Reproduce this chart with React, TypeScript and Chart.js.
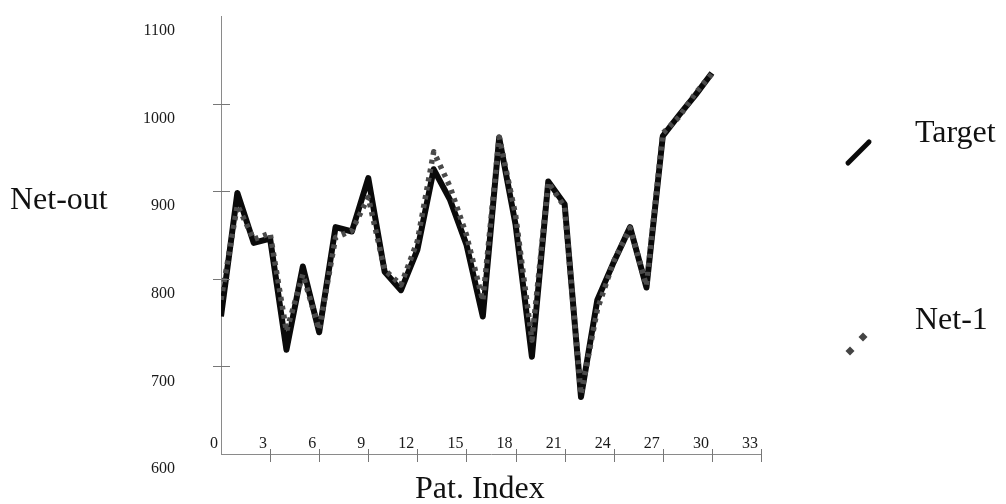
import React, { useEffect, useRef } from 'react';
import { Chart, registerables } from 'chart.js';

Chart.register(...registerables);

// ---- data ----
const patIndex = [0, 1, 2, 3, 4, 5, 6, 7, 8, 9, 10, 11, 12, 13, 14, 15, 16, 17, 18, 19, 20, 21, 22, 23, 24, 25, 26, 27, 28, 29, 30];
const targetValues = [757, 898, 841, 846, 719, 814, 739, 859, 854, 915, 808, 787, 833, 925, 890, 839, 757, 961, 862, 711, 911, 885, 665, 776, 819, 859, 790, 963, 987, 1010, 1035];
const net1Values = [776, 884, 845, 852, 740, 805, 742, 847, 855, 893, 810, 793, 843, 945, 905, 850, 775, 962, 873, 730, 910, 882, 668, 765, 820, 858, 792, 966, 985, 1012, 1034];
const seriesNames = ['Target', 'Net-1'];
const xTickValues = [0, 3, 6, 9, 12, 15, 18, 21, 24, 27, 30, 33];
const xCrossTicks = [3, 6, 9, 12, 15, 18, 21, 24, 27, 30, 33];
const yTickValues = [600, 700, 800, 900, 1000, 1100];
const yCrossTicks = [700, 800, 900, 1000];
const xTitle = 'Pat. Index';
const yTitle = 'Net-out';

const SERIF = '"Liberation Serif", "DejaVu Serif", serif';

const decorPlugin = {
  id: 'decor',
  afterDraw(chart: any) {
    const ctx = chart.ctx as CanvasRenderingContext2D;
    const xs = chart.scales.x;
    const ys = chart.scales.y;
    const x0 = xs.getPixelForValue(0);
    const yBase = ys.getPixelForValue(600);
    ctx.save();
    // cross-shaped tick marks
    ctx.strokeStyle = '#777';
    ctx.lineWidth = 1;
    ctx.beginPath();
    for (const t of xCrossTicks) {
      const px = Math.round(xs.getPixelForValue(t)) + 0.5;
      ctx.moveTo(px, yBase - 5);
      ctx.lineTo(px, yBase + 8);
    }
    for (const t of yCrossTicks) {
      const py = Math.round(ys.getPixelForValue(t)) + 0.5;
      ctx.moveTo(x0 - 8, py);
      ctx.lineTo(x0 + 9, py);
    }
    ctx.stroke();

    // axis titles (horizontal text)
    ctx.fillStyle = '#111';
    ctx.font = '32px ' + SERIF;
    ctx.textAlign = 'left';
    ctx.textBaseline = 'alphabetic';
    ctx.fillText(yTitle, 10, 209);
    ctx.fillText(xTitle, 415, 498);

    // legend
    const ds = chart.data.datasets;
    ctx.fillText(ds[0].label, 915, 142);
    ctx.fillText(ds[1].label, 915, 329);
    // Target symbol: short thick diagonal stroke
    ctx.strokeStyle = '#0a0a0a';
    ctx.lineWidth = 5;
    ctx.lineCap = 'round';
    ctx.beginPath();
    ctx.moveTo(848, 163);
    ctx.lineTo(869, 142);
    ctx.stroke();
    // Net-1 symbol: two diamonds
    ctx.fillStyle = '#444';
    const diamond = (cx: number, cy: number, r: number) => {
      ctx.beginPath();
      ctx.moveTo(cx, cy - r);
      ctx.lineTo(cx + r, cy);
      ctx.lineTo(cx, cy + r);
      ctx.lineTo(cx - r, cy);
      ctx.closePath();
      ctx.fill();
    };
    diamond(850, 351, 4.5);
    diamond(863, 337, 4.5);
    ctx.restore();
  },
};

export default function App() {
  const canvasRef = useRef<HTMLCanvasElement | null>(null);

  useEffect(() => {
    if (!canvasRef.current) return;
    const targetData = patIndex.map((x, i) => ({ x, y: targetValues[i] }));
    const net1Data = patIndex.map((x, i) => ({ x, y: net1Values[i] }));
    const chart = new Chart(canvasRef.current, {
      type: 'line',
      data: {
        datasets: [
          {
            label: seriesNames[0],
            data: targetData,
            borderColor: '#0a0a0a',
            borderWidth: 6,
            pointRadius: 0,
            tension: 0,
            borderJoinStyle: 'round',
            order: 2,
          },
          {
            label: seriesNames[1],
            data: net1Data,
            borderColor: '#4a4a4a',
            borderWidth: 5.5,
            borderDash: [4, 5],
            borderCapStyle: 'butt',
            borderJoinStyle: 'round',
            pointRadius: 0,
            tension: 0,
            order: 1,
          },
        ],
      },
      options: {
        animation: false,
        responsive: false,
        devicePixelRatio: 1,
        layout: { padding: { left: 0, right: 245, top: 16, bottom: 0 } },
        plugins: {
          legend: { display: false },
          tooltip: { enabled: false },
          title: { display: false },
        },
        scales: {
          x: {
            type: 'linear',
            min: 0,
            max: 33,
            afterFit: (s: any) => {
              s.height = 50;
              s.paddingLeft = 0;
              s.paddingRight = 0;
            },
            afterBuildTicks: (s: any) => {
              s.ticks = xTickValues.map((v) => ({ value: v }));
            },
            grid: { display: false },
            border: { display: true, color: '#8a8a8a', width: 1, dash: [6, 2, 1, 2] },
            ticks: {
              autoSkip: false,
              maxRotation: 0,
              mirror: true,
              align: 'end',
              labelOffset: -3,
              padding: 1,
              color: '#1a1a1a',
              font: { family: SERIF, size: 16 },
              callback: (v: any) => String(v),
            },
          },
          y: {
            type: 'linear',
            min: 600,
            max: 1100,
            afterFit: (s: any) => {
              s.width = 221;
              s.paddingTop = 0;
              s.paddingBottom = 0;
            },
            afterBuildTicks: (s: any) => {
              s.ticks = yTickValues.map((v) => ({ value: v }));
            },
            grid: { display: false },
            border: { display: true, color: '#8a8a8a', width: 1, dash: [6, 2, 1, 2] },
            ticks: {
              padding: 38,
              labelOffset: 15,
              color: '#1a1a1a',
              font: { family: SERIF, size: 16 },
              callback: (v: any) => String(v),
            },
          },
        },
      },
      plugins: [decorPlugin],
    });
    return () => chart.destroy();
  }, []);

  return (
    <div style={{ position: 'fixed', left: 0, top: 0, width: 1006, height: 504, background: '#fff' }}>
      <canvas ref={canvasRef} width={1006} height={504} style={{ display: 'block' }} />
    </div>
  );
}
